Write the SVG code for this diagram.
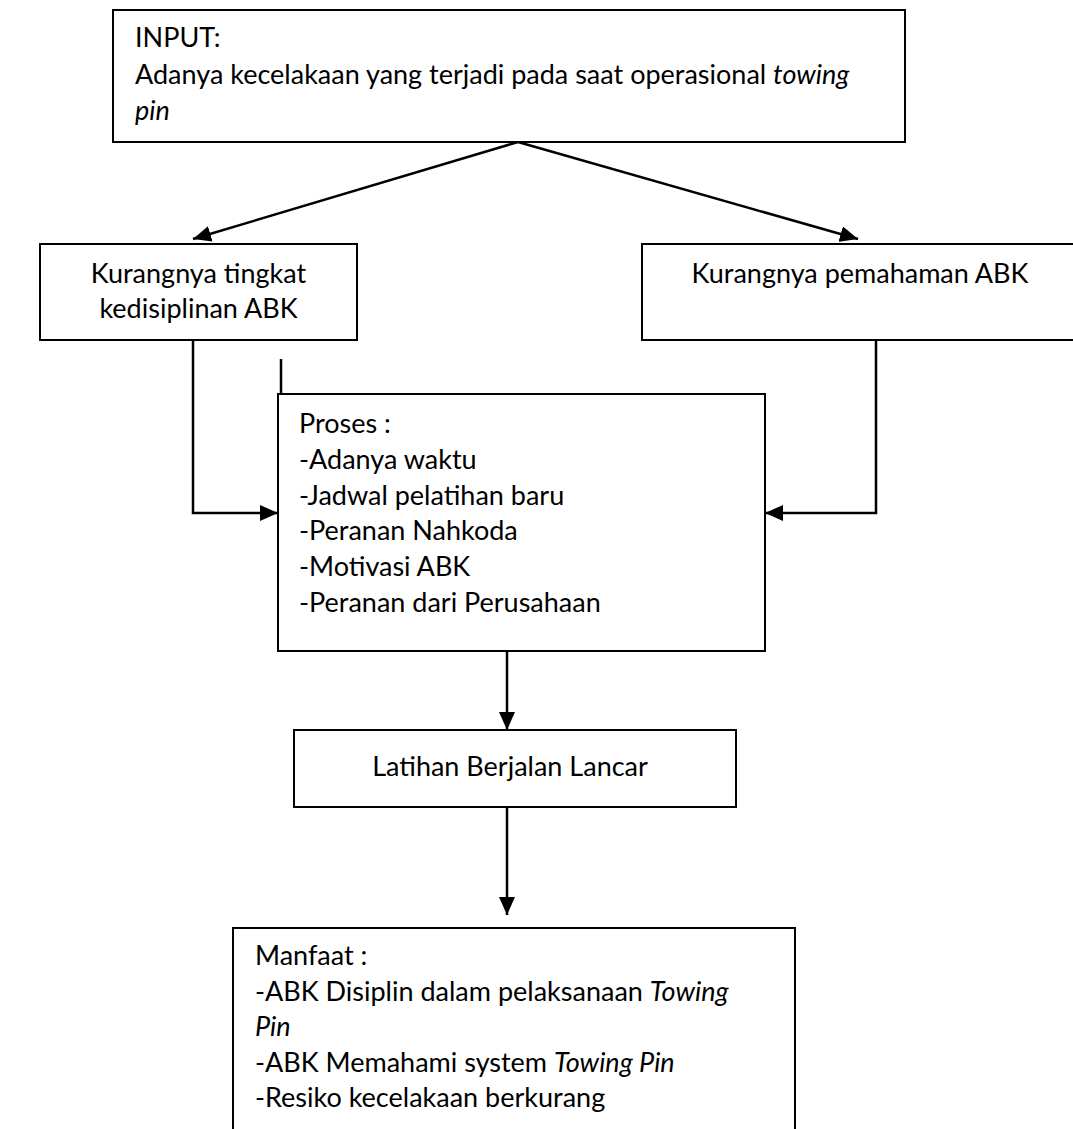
<svg xmlns="http://www.w3.org/2000/svg" width="1073" height="1129" viewBox="0 0 1073 1129">
<defs>
<style>
.box{fill:#fff;stroke:#000;stroke-width:2}
.t{font-family:Lato,"Liberation Sans",sans-serif;font-size:27px;fill:#000}
.c{fill:none;stroke:#000;stroke-width:2.5}
</style>
<marker id="ah" markerUnits="userSpaceOnUse" markerWidth="18" markerHeight="16" refX="18" refY="8" orient="auto">
<path d="M0,0 L18,8 L0,16 z" fill="#000"/>
</marker>
</defs>
<rect width="1073" height="1129" fill="#fff"/>
<g id="connectors">
<line class="c" x1="518" y1="142" x2="193" y2="239" marker-end="url(#ah)"/>
<line class="c" x1="518" y1="142" x2="858" y2="239" marker-end="url(#ah)"/>
<polyline class="c" points="193,340 193,513 278,513" marker-end="url(#ah)"/>
<line class="c" x1="281" y1="359" x2="281" y2="394"/>
<polyline class="c" points="876,340 876,513 765,513" marker-end="url(#ah)"/>
<line class="c" x1="507" y1="651" x2="507" y2="730" marker-end="url(#ah)"/>
<line class="c" x1="507" y1="807" x2="507" y2="915" marker-end="url(#ah)"/>
</g>
<g id="input">
<rect class="box" x="113" y="10" width="792" height="132"/>
<text class="t" x="135" y="47">INPUT:</text>
<text class="t" x="135" y="84">Adanya kecelakaan yang terjadi pada saat operasional <tspan font-style="italic">towing</tspan></text>
<text class="t" x="135" y="120" font-style="italic">pin</text>
</g>
<g id="kedisiplinan">
<rect class="box" x="40" y="244" width="317" height="96"/>
<text class="t" x="198.5" y="283" text-anchor="middle">Kurangnya tingkat</text>
<text class="t" x="198.5" y="318" text-anchor="middle">kedisiplinan ABK</text>
</g>
<g id="pemahaman">
<rect class="box" x="642" y="244" width="440" height="96"/>
<text class="t" x="860" y="283" text-anchor="middle">Kurangnya pemahaman ABK</text>
</g>
<g id="proses">
<rect class="box" x="278" y="394" width="487" height="257"/>
<text class="t" x="299" y="433">Proses :</text>
<text class="t" x="299" y="469">-Adanya waktu</text>
<text class="t" x="299" y="505">-Jadwal pelatihan baru</text>
<text class="t" x="299" y="540">-Peranan Nahkoda</text>
<text class="t" x="299" y="576">-Motivasi ABK</text>
<text class="t" x="299" y="612">-Peranan dari Perusahaan</text>
</g>
<g id="latihan">
<rect class="box" x="294" y="730" width="442" height="77"/>
<text class="t" x="510" y="776" text-anchor="middle">Latihan Berjalan Lancar</text>
</g>
<g id="manfaat">
<rect class="box" x="233" y="928" width="562" height="220"/>
<text class="t" x="255" y="965">Manfaat :</text>
<text class="t" x="255" y="1001">-ABK Disiplin dalam pelaksanaan <tspan font-style="italic">Towing</tspan></text>
<text class="t" x="255" y="1036" font-style="italic">Pin</text>
<text class="t" x="255" y="1072">-ABK Memahami system <tspan font-style="italic">Towing Pin</tspan></text>
<text class="t" x="255" y="1107">-Resiko kecelakaan berkurang</text>
</g>
</svg>
